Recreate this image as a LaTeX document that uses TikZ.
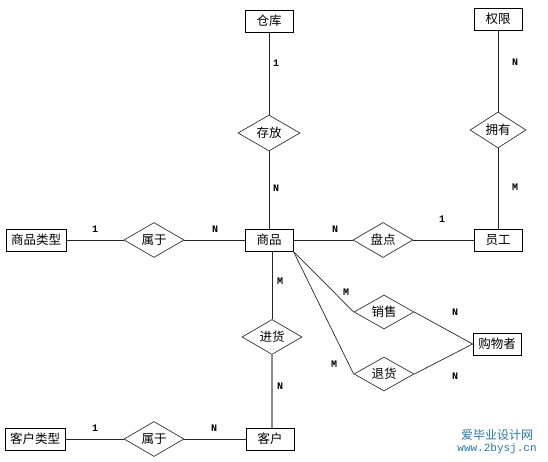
\documentclass[tikz,border=0pt]{standalone}
\usepackage{fontspec}
\usetikzlibrary{shapes.geometric}
\newfontfamily\cjk{Noto Sans CJK SC}
\newfontfamily\lblfont{Liberation Mono}
\definecolor{wmblue}{RGB}{40,120,165}
\tikzset{
  ent/.style={draw=black, line width=0.8pt, rectangle, inner sep=0pt, minimum width=48pt, minimum height=22pt, font=\cjk\fontsize{12.5}{12.5}\selectfont},
  rel/.style={draw=black!80, line width=0.7pt, diamond, aspect=2, inner sep=0pt, minimum width=60pt, minimum height=35pt, font=\cjk\fontsize{12.5}{12.5}\selectfont},
  card/.style={inner sep=0pt, font=\lblfont\bfseries\fontsize{10}{10}\selectfont},
  conn/.style={draw=black!85, line width=0.7pt},
  grayconn/.style={draw=black!45, line width=2pt}
}
\begin{document}
\begin{tikzpicture}[x=1pt,y=-1pt]
\useasboundingbox (0,0) rectangle (548,462);
% entities
\node[ent] (ck) at (269,21) {仓库};
\node[ent] (qx) at (498,19) {权限};
\node[ent, minimum width=60pt] (lx) at (36,240) {商品类型};
\node[ent] (sp) at (269,240) {商品};
\node[ent] (yg) at (498,240) {员工};
\node[ent] (gw) at (497,344) {购物者};
\node[ent, minimum width=60pt] (kl) at (35,439) {客户类型};
\node[ent] (kh) at (270,439) {客户};
% relationships
\node[rel, minimum width=62pt, minimum height=36pt] (cf) at (269,133) {存放};
\node[rel, minimum width=56pt, minimum height=36pt] (yy) at (498,130) {拥有};
\node[rel] (sy1) at (154,240) {属于};
\node[rel] (pd) at (383,240) {盘点};
\node[rel] (jh) at (272,337) {进货};
\node[rel, minimum height=34pt] (xs) at (384,312) {销售};
\node[rel, minimum height=34pt] (th) at (384,374) {退货};
\node[rel] (sy2) at (154,439) {属于};
% connectors
\draw[conn] (ck.south) -- (cf.north);
\draw[conn] (cf.south) -- (sp.north);
\draw[conn] (qx.south) -- (yy.north);
\draw[conn] (yy.south) -- (yg.north);
\draw[conn] (lx.east) -- (sy1.west);
\draw[conn] (sy1.east) -- (sp.west);
\draw[conn] (sp.east) -- (pd.west);
\draw[conn] (pd.east) -- (yg.west);
\draw[conn] (sp.south -| jh.north) -- (jh.north);
\draw[grayconn] (jh.south) -- (jh.south |- kh.north);
\draw[conn] (sp.south east) -- (xs.west);
\draw[conn] (sp.south east) -- (th.west);
\draw[conn] (xs.east) -- (gw.west);
\draw[conn] (th.east) -- (gw.west);
\draw[conn] (kl.east) -- (sy2.west);
\draw[conn] (sy2.east) -- (kh.west);
% cardinalities
\node[card] (c1) at (276,63) {1};
\node[card] (c2) at (276,188) {N};
\node[card] (c3) at (515,62) {N};
\node[card] (c4) at (515,187) {M};
\node[card] (c5) at (95,229) {1};
\node[card] (c6) at (215,229) {N};
\node[card] (c7) at (335,229) {N};
\node[card] (c8) at (442,219) {1};
\node[card] (c9) at (280,281) {M};
\node[card] (c10) at (280,386) {N};
\node[card] (c11) at (346,292) {M};
\node[card] (c12) at (455,312) {N};
\node[card] (c13) at (334,364) {M};
\node[card] (c14) at (455,376) {N};
\node[card] (c15) at (95,428) {1};
\node[card] (c16) at (214,428) {N};
% watermark
\node[text=wmblue, inner sep=0pt, font=\cjk\fontsize{12}{12}\selectfont] (wm1) at (497,435) {爱毕业设计网};
\node[text=wmblue, inner sep=0pt, font=\lblfont\fontsize{11}{11}\selectfont] (wm2) at (497,449) {www.2bysj.cn};
\end{tikzpicture}
\end{document}
